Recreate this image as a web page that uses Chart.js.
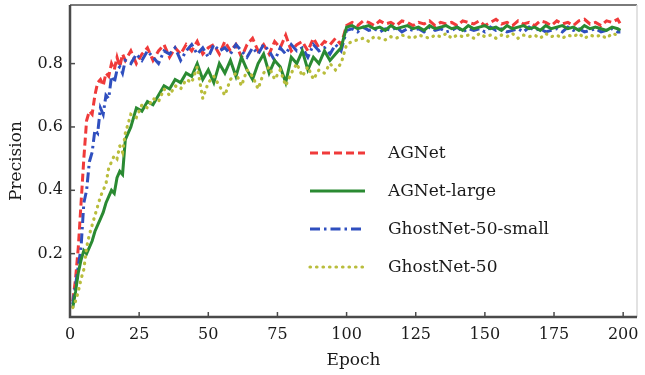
<!DOCTYPE html>
<html>
<head>
<meta charset="utf-8">
<script src="https://cdn.jsdelivr.net/npm/chart.js@4.4.1/dist/chart.umd.min.js"></script>
<style>
  html, body { margin: 0; padding: 0; background: #fff; }
  #wrap { width: 645px; height: 375px; position: relative; }
</style>
</head>
<body>
<div id="wrap"><canvas id="c" width="645" height="375"></canvas></div>
<script>
const epochs = [1,2,3,4,5,6,7,8,9,10,11,12,13,14,15,16,17,18,19,20,
  22,24,26,28,30,32,34,36,38,40,42,44,46,48,
  50,52,54,56,58,60,62,64,66,68,70,72,74,76,78,80,82,84,86,88,90,92,94,96,98,
  100,102,104,106,108,110,112,114,116,118,120,122,124,126,128,130,132,134,136,138,140,142,144,146,148,
  150,152,154,156,158,160,162,164,166,168,170,172,174,176,178,180,182,184,186,188,190,192,194,196,198,199];

const seriesNames = ["AGNet", "AGNet-large", "GhostNet-50-small", "GhostNet-50"];

const agnet = [0.05,0.12,0.22,0.36,0.50,0.62,0.65,0.64,0.70,0.74,0.75,0.73,0.77,0.76,0.80,0.78,0.82,0.79,0.83,0.81,
  0.84,0.80,0.83,0.85,0.81,0.84,0.86,0.82,0.85,0.83,0.86,0.84,0.87,0.83,
  0.85,0.86,0.83,0.87,0.84,0.86,0.82,0.86,0.88,0.84,0.86,0.83,0.87,0.85,0.89,0.84,0.86,0.87,0.84,0.88,0.85,0.87,0.86,0.88,0.86,
  0.92,0.93,0.92,0.935,0.93,0.92,0.935,0.925,0.93,0.92,0.935,0.93,0.92,0.93,0.925,0.935,0.92,0.93,0.925,0.93,0.92,0.935,0.93,0.925,0.935,
  0.92,0.93,0.94,0.925,0.93,0.92,0.935,0.925,0.93,0.92,0.935,0.93,0.92,0.935,0.925,0.93,0.92,0.935,0.94,0.925,0.93,0.92,0.935,0.93,0.94,0.925];

const agnetLarge = [0.03,0.08,0.14,0.18,0.21,0.20,0.22,0.24,0.27,0.29,0.31,0.33,0.36,0.38,0.40,0.39,0.44,0.46,0.45,0.56,
  0.60,0.66,0.65,0.68,0.67,0.70,0.73,0.72,0.75,0.74,0.77,0.76,0.80,0.75,
  0.78,0.74,0.80,0.77,0.81,0.76,0.82,0.78,0.75,0.80,0.83,0.77,0.81,0.79,0.74,0.82,0.80,0.84,0.78,0.82,0.80,0.84,0.81,0.83,0.85,
  0.915,0.92,0.91,0.915,0.92,0.91,0.915,0.905,0.92,0.91,0.915,0.92,0.91,0.915,0.905,0.92,0.91,0.915,0.92,0.91,0.915,0.905,0.92,0.91,0.915,
  0.92,0.91,0.915,0.905,0.92,0.91,0.915,0.92,0.91,0.915,0.905,0.92,0.91,0.915,0.92,0.91,0.915,0.905,0.92,0.91,0.915,0.91,0.905,0.915,0.91,0.905];

const ghostSmall = [0.04,0.10,0.16,0.22,0.36,0.40,0.49,0.52,0.59,0.58,0.66,0.64,0.70,0.69,0.76,0.74,0.78,0.79,0.77,0.81,
  0.80,0.83,0.81,0.84,0.82,0.80,0.84,0.83,0.85,0.81,0.84,0.86,0.83,0.85,
  0.82,0.86,0.84,0.85,0.83,0.86,0.84,0.82,0.85,0.83,0.86,0.84,0.81,0.85,0.83,0.86,0.84,0.85,0.82,0.86,0.84,0.85,0.83,0.86,0.84,
  0.905,0.91,0.90,0.915,0.905,0.91,0.90,0.91,0.905,0.915,0.90,0.91,0.905,0.91,0.90,0.915,0.905,0.91,0.90,0.905,0.915,0.90,0.91,0.905,0.91,
  0.90,0.915,0.905,0.91,0.90,0.905,0.91,0.90,0.915,0.905,0.91,0.90,0.905,0.91,0.90,0.915,0.905,0.91,0.90,0.905,0.91,0.90,0.905,0.91,0.90,0.90];

const ghost = [0.03,0.05,0.08,0.12,0.15,0.22,0.26,0.29,0.32,0.35,0.38,0.40,0.42,0.47,0.49,0.51,0.50,0.54,0.52,0.58,
  0.64,0.63,0.67,0.66,0.69,0.68,0.72,0.70,0.73,0.72,0.75,0.74,0.79,0.69,
  0.74,0.76,0.73,0.70,0.75,0.77,0.73,0.78,0.76,0.72,0.77,0.79,0.75,0.78,0.73,0.77,0.80,0.76,0.79,0.75,0.78,0.77,0.80,0.78,0.80,
  0.86,0.87,0.875,0.88,0.87,0.885,0.88,0.875,0.885,0.88,0.89,0.885,0.88,0.89,0.885,0.88,0.89,0.885,0.895,0.88,0.89,0.885,0.89,0.88,0.895,
  0.885,0.89,0.88,0.89,0.885,0.895,0.88,0.89,0.885,0.89,0.88,0.895,0.885,0.89,0.88,0.89,0.885,0.895,0.88,0.89,0.885,0.89,0.88,0.895,0.89,0.885];

const xTickValues = [0,25,50,75,100,125,150,175,200];
const yTickValues = [0.2,0.4,0.6,0.8];

const FONT = "'DejaVu Serif', 'Liberation Serif', serif";

function pts(vals) { return epochs.map((e, i) => ({x: e, y: vals[i]})); }

const styles = [
  {color: '#f03a3a', dash: [8, 4], cap: 'butt', width: 3},
  {color: '#2a8a32', dash: [], cap: 'butt', width: 3},
  {color: '#2f4fbf', dash: [10, 4, 2.5, 4], cap: 'butt', width: 3},
  {color: '#b9bd3c', dash: [0.5, 6], cap: 'round', width: 3.2}
];
const valuesList = [agnet, agnetLarge, ghostSmall, ghost];
const order = [3, 1, 2, 0];

const datasets = valuesList.map((v, i) => ({
  label: seriesNames[i],
  data: pts(v),
  borderColor: styles[i].color,
  backgroundColor: styles[i].color,
  borderWidth: styles[i].width,
  borderDash: styles[i].dash,
  borderCapStyle: styles[i].cap,
  pointRadius: 0,
  tension: 0,
  fill: false,
  order: order[i]
}));

const framePlugin = {
  id: 'frame',
  afterDraw(chart) {
    const {ctx, chartArea: a, scales} = chart;
    ctx.save();
    ctx.strokeStyle = '#7a7a7a';
    ctx.lineWidth = 2;
    ctx.beginPath();
    ctx.moveTo(a.left, a.top); ctx.lineTo(a.right, a.top);
    ctx.stroke();
    ctx.strokeStyle = '#d8d8d8';
    ctx.lineWidth = 1.5;
    ctx.beginPath();
    ctx.moveTo(a.right, a.top); ctx.lineTo(a.right, a.bottom);
    ctx.stroke();
    ctx.strokeStyle = '#4a4a4a';
    ctx.lineWidth = 2.5;
    ctx.beginPath();
    ctx.moveTo(a.left, a.top); ctx.lineTo(a.left, a.bottom); ctx.lineTo(a.right, a.bottom);
    ctx.stroke();
    ctx.lineWidth = 1.5;
    xTickValues.forEach(v => {
      const x = scales.x.getPixelForValue(v);
      ctx.beginPath(); ctx.moveTo(x, a.bottom); ctx.lineTo(x, a.bottom - 5); ctx.stroke();
    });
    yTickValues.forEach(v => {
      const y = scales.y.getPixelForValue(v);
      ctx.beginPath(); ctx.moveTo(a.left, y); ctx.lineTo(a.left + 5, y); ctx.stroke();
    });
    const lx0 = 310, lx1 = 365, tx = 388, rowY = [153, 191, 229, 267];
    ctx.font = "17px " + FONT;
    ctx.textBaseline = 'middle';
    ctx.textAlign = 'left';
    datasets.forEach((d, i) => {
      const s = styles[i];
      ctx.strokeStyle = s.color;
      ctx.lineWidth = s.width;
      ctx.setLineDash(s.dash);
      ctx.lineCap = s.cap;
      ctx.beginPath(); ctx.moveTo(lx0, rowY[i]); ctx.lineTo(lx1, rowY[i]); ctx.stroke();
      ctx.setLineDash([]);
      ctx.lineCap = 'butt';
      ctx.fillStyle = '#1a1a1a';
      ctx.fillText(d.label, tx, rowY[i] + 1);
    });
    ctx.restore();
  }
};

new Chart(document.getElementById('c'), {
  type: 'line',
  data: { datasets },
  options: {
    responsive: false,
    animation: false,
    devicePixelRatio: 1,
    layout: { padding: { left: 0, top: 5, right: 8, bottom: 0 } },
    plugins: { legend: { display: false }, tooltip: { enabled: false } },
    scales: {
      x: {
        type: 'linear', min: 0, max: 205,
        grid: { display: false, drawTicks: false },
        border: { display: false },
        ticks: { stepSize: 25, includeBounds: false, color: '#1a1a1a', padding: 8, maxRotation: 0,
          font: { family: FONT, size: 16 } },
        title: { display: true, text: 'Epoch', color: '#1a1a1a', padding: { top: 0, bottom: 4 },
          font: { family: FONT, size: 17 } },
        afterFit(s) { s.height = 58; s.paddingLeft = 0; s.paddingRight = 0; }
      },
      y: {
        type: 'linear', min: 0, max: 0.985,
        grid: { display: false, drawTicks: false },
        border: { display: false },
        ticks: { stepSize: 0.2, includeBounds: false, color: '#1a1a1a', padding: 7,
          font: { family: FONT, size: 16 },
          callback: v => (v > 0.01 && v < 0.9) ? v.toFixed(1) : '' },
        title: { display: true, text: 'Precision', color: '#1a1a1a', padding: { top: 6, bottom: 0 },
          font: { family: FONT, size: 17 } },
        afterFit(s) { s.width = 70; s.paddingTop = 0; s.paddingBottom = 0; }
      }
    }
  },
  plugins: [framePlugin]
});
</script>
</body>
</html>
